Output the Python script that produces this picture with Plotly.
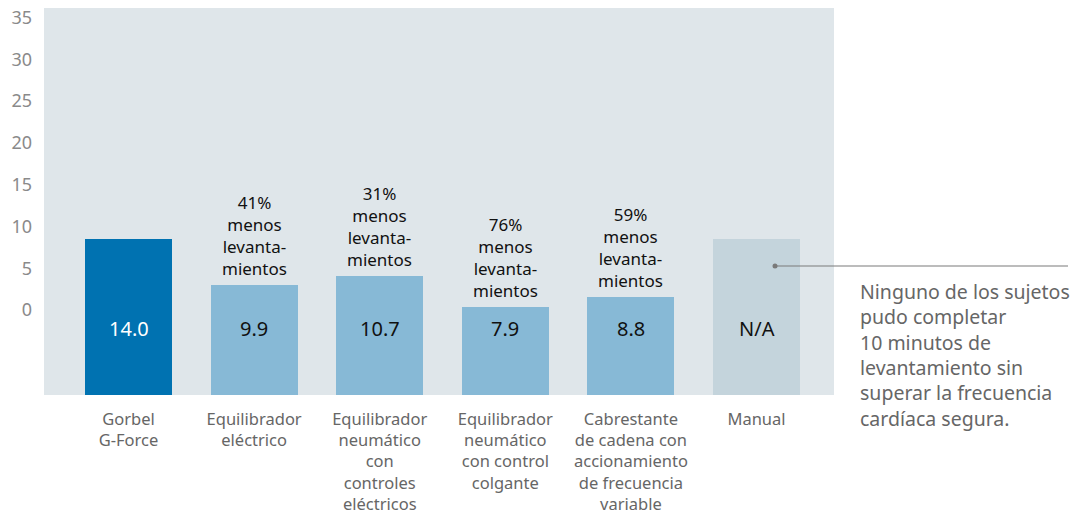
import plotly.graph_objects as go

categories = ["Gorbel<br>G-Force", "Equilibrador<br>eléctrico",
              "Equilibrador<br>neumático<br>con<br>controles<br>eléctricos",
              "Equilibrador<br>neumático<br>con control<br>colgante",
              "Cabrestante<br>de cadena con<br>accionamiento<br>de frecuencia<br>variable",
              "Manual"]
bar_heights = [14.0, 9.9, 10.7, 7.9, 8.8, 14.0]
value_labels = ["14.0", "9.9", "10.7", "7.9", "8.8", "N/A"]
reduction_labels = ["", "41%<br>menos<br>levanta-<br>mientos", "31%<br>menos<br>levanta-<br>mientos",
                    "76%<br>menos<br>levanta-<br>mientos", "59%<br>menos<br>levanta-<br>mientos", ""]
tick_values = [0, 5, 10, 15, 20, 25, 30, 35]
tick_labels = ["0", "5", "10", "15", "20", "25", "30", "35"]
callout_text = ("Ninguno de los sujetos<br>pudo completar<br>10 minutos de<br>"
                "levantamiento sin<br>superar la frecuencia<br>cardíaca segura.")

FONT = "Noto Sans, Open Sans, sans-serif"
colors = ["#0072b1", "#87b9d6", "#87b9d6", "#87b9d6", "#87b9d6", "#c4d4dc"]
text_colors = ["#ffffff", "#111111", "#111111", "#111111", "#111111", "#111111"]

x_idx = list(range(len(categories)))

fig = go.Figure()
fig.add_trace(go.Bar(x=x_idx, y=bar_heights, marker=dict(color=colors, line=dict(width=0)),
                     width=0.693, hoverinfo="skip", showlegend=False))
# invisible trace to carry the tick axis
fig.add_trace(go.Scatter(x=[x_idx[0], x_idx[0]], y=[tick_values[0], tick_values[-1]], yaxis="y2",
                         mode="markers", marker=dict(opacity=0), hoverinfo="skip", showlegend=False))

annotations = []
for i, (h, vl, rl, tc) in enumerate(zip(bar_heights, value_labels, reduction_labels, text_colors)):
    annotations.append(dict(x=i, y=6.0, xref="x", yref="y", text=vl, showarrow=False,
                            font=dict(family=FONT, size=20, color=tc), xanchor="center", yanchor="middle"))
    if rl:
        annotations.append(dict(x=i, y=h, xref="x", yref="y", text=rl, showarrow=False,
                                font=dict(family=FONT, size=17, color="#111111"),
                                xanchor="center", yanchor="bottom", yshift=3))

annotations.append(dict(x=(858 - 44) / 790, y=(395 - 276) / 387, xref="paper", yref="paper",
                        text=callout_text, showarrow=False, align="left", xanchor="left", yanchor="top",
                        font=dict(family=FONT, size=19.5, color="#666666")))

shapes = [
    dict(type="line", xref="paper", yref="paper", x0=(775 - 44) / 790, x1=(1068 - 44) / 790,
         y0=(395 - 266) / 387, y1=(395 - 266) / 387, line=dict(color="#7a7a7a", width=1.2)),
    dict(type="circle", xref="paper", yref="paper",
         x0=(772.5 - 44) / 790, x1=(777.5 - 44) / 790,
         y0=(395 - 268.5) / 387, y1=(395 - 263.5) / 387,
         fillcolor="#7a7a7a", line=dict(width=0)),
]

fig.update_layout(
    width=1082, height=514,
    margin=dict(l=44, r=248, t=8, b=119, autoexpand=False),
    paper_bgcolor="#ffffff", plot_bgcolor="#dfe6ea",
    bargap=0, showlegend=False,
    xaxis=dict(range=[-0.673, 5.617], tickvals=x_idx, ticktext=categories, showgrid=False,
               zeroline=False, showline=False, ticks="", ticklabelstandoff=12, automargin=False,
               tickfont=dict(family=FONT, size=16.5, color="#666666"), fixedrange=True),
    yaxis=dict(range=[0, 34.8], showgrid=False, zeroline=False, showline=False,
               showticklabels=False, ticks="", fixedrange=True, automargin=False),
    yaxis2=dict(overlaying="y", side="left", range=[-10.16, 36.13], tickvals=tick_values,
                ticktext=tick_labels, showgrid=False, zeroline=False, showline=False, ticks="",
                ticklabelstandoff=11, automargin=False,
                tickfont=dict(family=FONT, size=18, color="#8a8a8a"), fixedrange=True),
    annotations=annotations, shapes=shapes,
)

fig.write_html("out.html", config={"displayModeBar": False},
               post_script="document.body.style.margin='0';document.body.style.overflow='hidden';")
